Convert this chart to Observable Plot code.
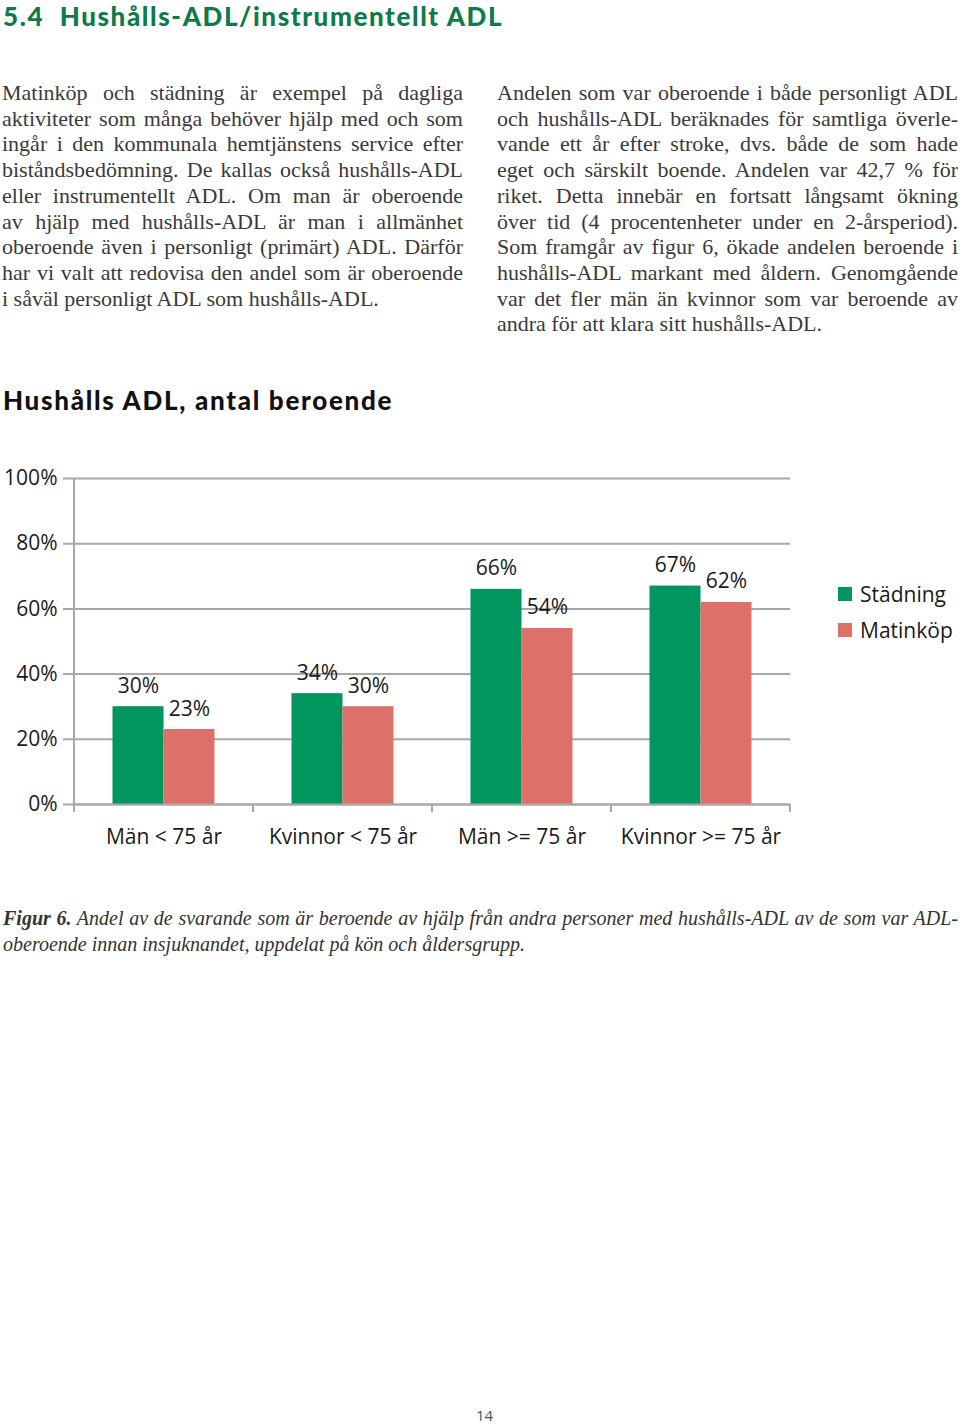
<!DOCTYPE html>
<html><head><meta charset="utf-8">
<script src="https://cdn.jsdelivr.net/npm/d3@7"></script>
<script src="https://cdn.jsdelivr.net/npm/@observablehq/plot@0.6"></script>
<style>
body{margin:0;width:960px;height:1425px;position:relative;background:#fff;overflow:hidden}
.abs{position:absolute}
.title{left:3px;top:0;font:900 26px/32px Lato,sans-serif;letter-spacing:1.6px;color:#0e7a4a;white-space:pre}
.heading{left:3px;top:386px;font:900 26px/28px Lato,sans-serif;letter-spacing:1.7px;color:#111;white-space:pre}
.col{top:80px;width:461px;font:22px/25.7px "Liberation Serif",serif;color:#3a3a3a}
.col div{white-space:nowrap;text-align:justify;text-align-last:justify}
.col div.last{text-align-last:left}
.caption{left:3px;top:905px;width:955px;font:italic 20px/26px "Liberation Serif",serif;color:#333}
.caption div{white-space:nowrap;text-align:justify;text-align-last:justify}
.caption div.last{text-align-last:left}
.legend{left:838px;top:576px;font:21px/36px "Open Sans",sans-serif;color:#1a1a1a}
.legend .item{display:flex;align-items:center;height:36px}
.legend .sw{width:14px;height:14px;margin-right:8px}
.page{left:476px;top:1405px;font:15px/20px "Open Sans",sans-serif;color:#555}
#chart{left:0;top:460px}
</style></head>
<body>
<div class="abs title">5.4  Hushålls-ADL/instrumentellt ADL</div>
<div class="abs col" style="left:2px">
<div>Matinköp och städning är exempel på dagliga</div>
<div>aktiviteter som många behöver hjälp med och som</div>
<div>ingår i den kommunala hemtjänstens service efter</div>
<div>biståndsbedömning. De kallas också hushålls-ADL</div>
<div>eller instrumentellt ADL. Om man är oberoende</div>
<div>av hjälp med hushålls-ADL är man i allmänhet</div>
<div>oberoende även i personligt (primärt) ADL. Därför</div>
<div>har vi valt att redovisa den andel som är oberoende</div>
<div class="last">i såväl personligt ADL som hushålls-ADL.</div>
</div>
<div class="abs col" style="left:497px">
<div>Andelen som var oberoende i både personligt ADL</div>
<div>och hushålls-ADL beräknades för samtliga överle-</div>
<div>vande ett år efter stroke, dvs. både de som hade</div>
<div>eget och särskilt boende. Andelen var 42,7 % för</div>
<div>riket. Detta innebär en fortsatt långsamt ökning</div>
<div>över tid (4 procentenheter under en 2-årsperiod).</div>
<div>Som framgår av figur 6, ökade andelen beroende i</div>
<div>hushålls-ADL markant med åldern. Genomgående</div>
<div>var det fler män än kvinnor som var beroende av</div>
<div class="last">andra för att klara sitt hushålls-ADL.</div>
</div>
<div class="abs heading">Hushålls ADL, antal beroende</div>
<div class="abs" id="chart"></div>
<div class="abs legend" id="legend"></div>
<div class="abs caption">
<div><b>Figur 6.</b> Andel av de svarande som är beroende av hjälp från andra personer med hushålls-ADL av de som var ADL-</div>
<div class="last">oberoende innan insjuknandet, uppdelat på kön och åldersgrupp.</div>
</div>
<div class="abs page">14</div>
<script>
const categories = ["Män < 75 år", "Kvinnor < 75 år", "Män >= 75 år", "Kvinnor >= 75 år"];
const series = ["Städning", "Matinköp"];
const stadning = [0.30, 0.34, 0.66, 0.67];
const matinkop = [0.23, 0.30, 0.54, 0.62];
const yTicks = [0, 0.2, 0.4, 0.6, 0.8, 1];
const colors = ["#00965e", "#de706a"];

const fmt = d3.format(".0%");
const rowsA = categories.map((c, i) => ({category: c, series: series[0], value: stadning[i]}));
const rowsB = categories.map((c, i) => ({category: c, series: series[1], value: matinkop[i]}));
const grid = "#a8a8a8";

const chart = Plot.plot({
  width: 960, height: 400,
  marginTop: 18, marginBottom: 56, marginLeft: 74, marginRight: 170,
  style: {fontFamily: "'Open Sans', sans-serif", fontSize: "21px", color: "#1a1a1a", background: "transparent"},
  x: {domain: categories, padding: 0},
  y: {domain: [0, 1]},
  color: {domain: series, range: colors},
  marks: [
    Plot.ruleY(yTicks, {stroke: grid, strokeWidth: 2, insetLeft: -11}),
    Plot.barY(rowsA, {x: "category", y: "value", fill: "series", insetLeft: 38.5, insetRight: 89.5}),
    Plot.barY(rowsB, {x: "category", y: "value", fill: "series", insetLeft: 89.5, insetRight: 38.5}),
    Plot.ruleY([0], {stroke: grid, strokeWidth: 2}),
    Plot.text(rowsA, {x: "category", y: "value", text: d => fmt(d.value), dx: -25.5, dy: -14, lineAnchor: "bottom", fontSize: 21, fill: "#1a1a1a"}),
    Plot.text(rowsB, {x: "category", y: "value", text: d => fmt(d.value), dx: 25.5, dy: -14, lineAnchor: "bottom", fontSize: 21, fill: "#1a1a1a"}),
    Plot.axisY({ticks: yTicks, tickFormat: fmt, tickSize: 0, tickPadding: 17, fontSize: 21, label: null}),
    Plot.axisX({tickSize: 0, tickPadding: 25, fontSize: 21, label: null})
  ]
});
document.getElementById("chart").appendChild(chart);

// axis line and category boundary ticks from the library's x and y scales
const xs = chart.scale("x"), ys = chart.scale("y");
const y0 = ys.apply(0), y1 = ys.apply(1);
const bounds = categories.map(c => xs.apply(c)).concat([xs.apply(categories[categories.length - 1]) + xs.bandwidth]);
const g = d3.select(chart).append("g").attr("stroke", grid).attr("stroke-width", 2);
bounds.forEach((bx, i) => g.append("line").attr("x1", bx).attr("x2", bx).attr("y1", i === 0 ? y1 : y0).attr("y2", y0 + 8));

// legend
const leg = d3.select("#legend");
series.forEach((s, i) => {
  const it = leg.append("div").attr("class", "item");
  it.append("div").attr("class", "sw").style("background", colors[i]);
  it.append("span").text(s);
});
</script>
</body></html>
